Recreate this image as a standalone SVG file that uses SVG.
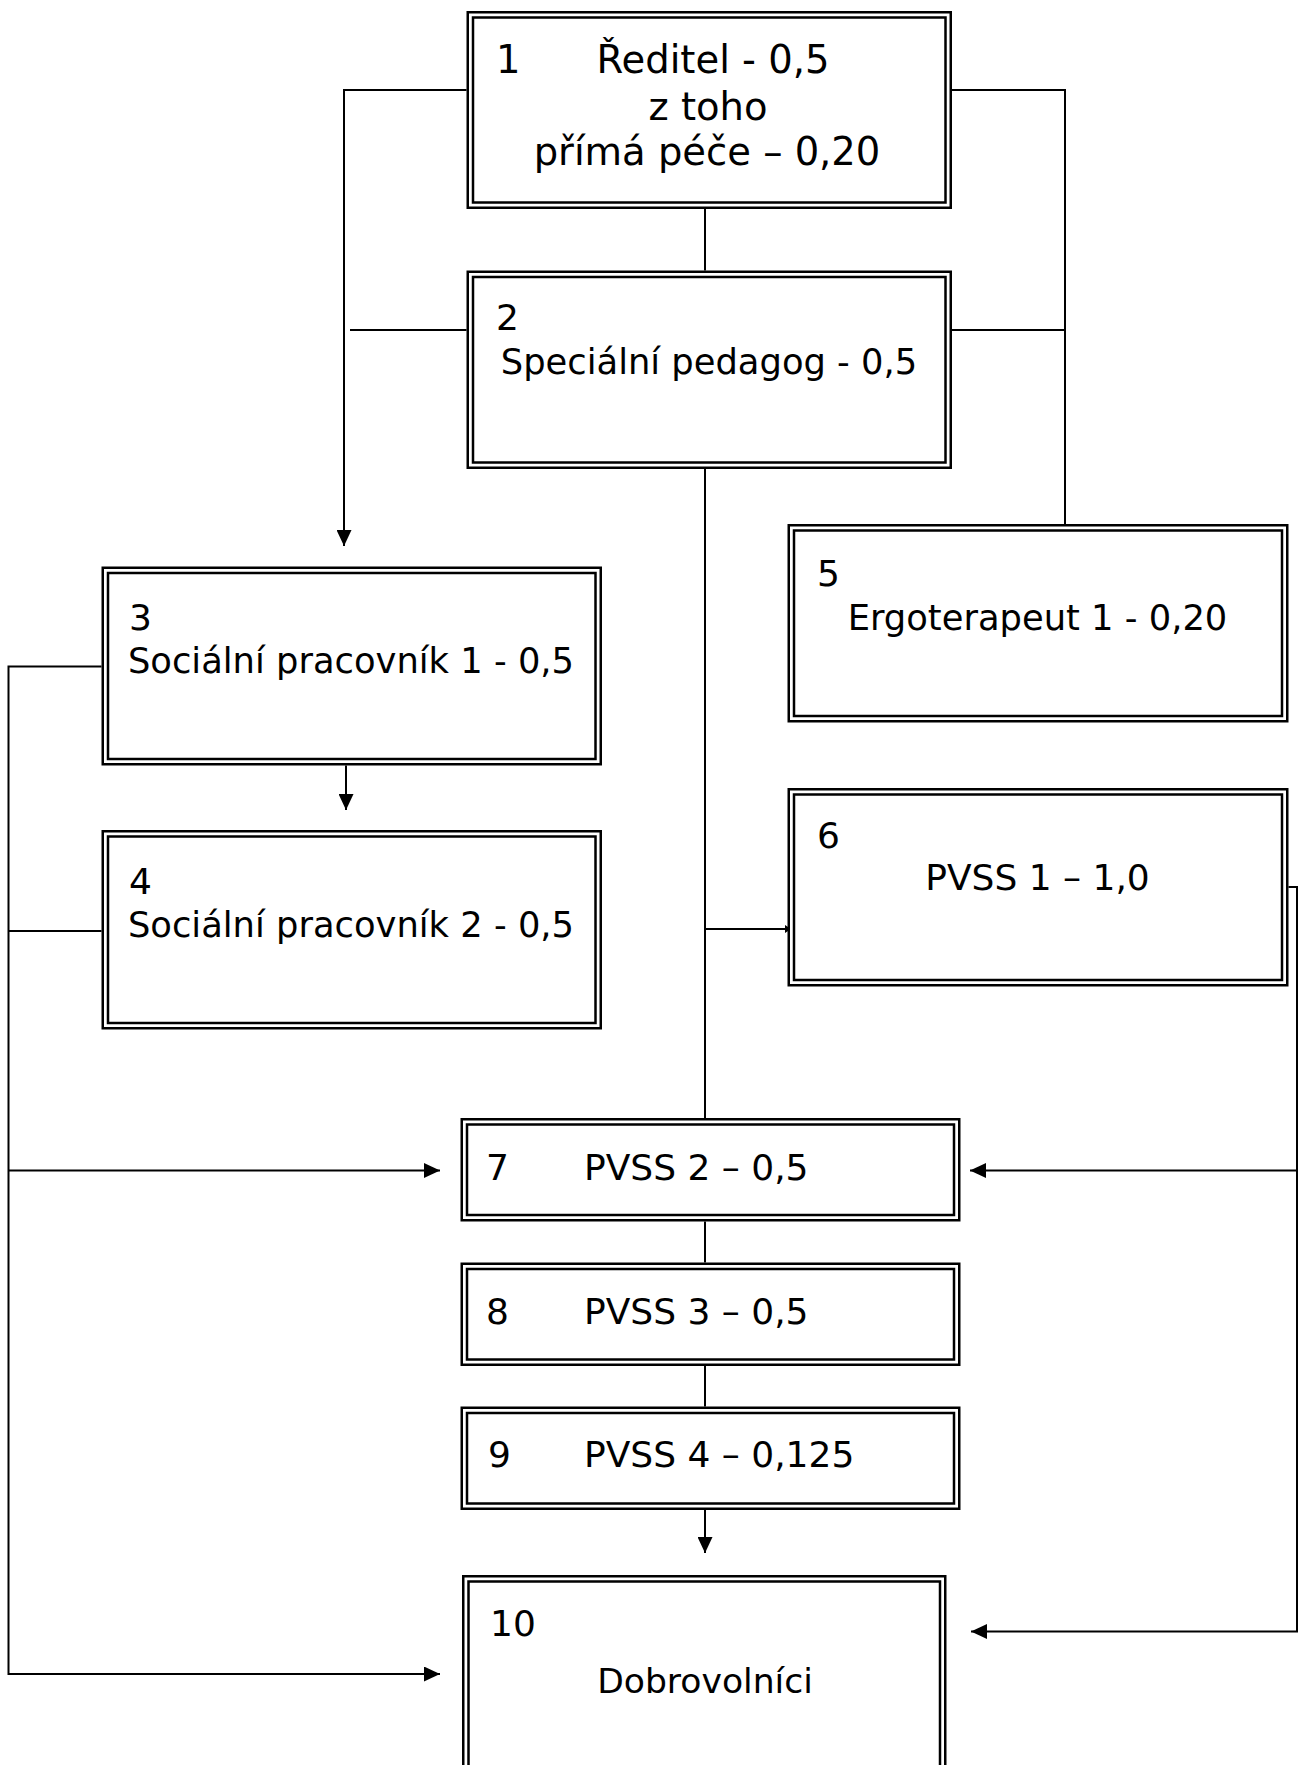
<svg xmlns="http://www.w3.org/2000/svg" width="1300" height="1765" viewBox="0 0 1300 1765">
<style>
.o{fill:#fff;stroke:#000;stroke-width:2.5}
.i{fill:none;stroke:#000;stroke-width:2.5}
.c{fill:none;stroke:#000;stroke-width:2}
text{font-family:"DejaVu Sans",Verdana,sans-serif;font-size:36px;fill:#000}
.m{text-anchor:middle}
.b{font-size:38.5px}
.l{font-size:35.3px}
</style>
<defs>
<marker id="a" markerUnits="userSpaceOnUse" markerWidth="16" markerHeight="15" refX="16" refY="7.5" orient="auto"><path d="M0,0 L16,7.5 L0,15 z" fill="#000"/></marker>
<marker id="s" markerUnits="userSpaceOnUse" markerWidth="6" markerHeight="8" refX="6" refY="4" orient="auto"><path d="M0,0 L6,4 L0,8 z" fill="#000"/></marker>
</defs>
<rect width="1300" height="1765" fill="#fff"/>
<g id="connectors">
<polyline class="c" points="466.5,90 344,90 344,546" marker-end="url(#a)"/>
<line class="c" x1="350" y1="330" x2="466.5" y2="330"/>
<polyline class="c" points="952,90 1065,90 1065,524"/>
<line class="c" x1="952" y1="330" x2="1065" y2="330"/>
<line class="c" x1="705" y1="209" x2="705" y2="270.5"/>
<line class="c" x1="705" y1="469" x2="705" y2="1118"/>
<line class="c" x1="705" y1="929" x2="791" y2="929" marker-end="url(#s)"/>
<line class="c" x1="346" y1="765.5" x2="346" y2="810" marker-end="url(#a)"/>
<polyline class="c" points="101.5,666.5 8.5,666.5 8.5,1674 440,1674" marker-end="url(#a)"/>
<line class="c" x1="8.5" y1="931" x2="101.5" y2="931"/>
<line class="c" x1="8.5" y1="1170.5" x2="440" y2="1170.5" marker-end="url(#a)"/>
<polyline class="c" points="1288.5,887 1297,887 1297,1631.5 971,1631.5" marker-end="url(#a)"/>
<line class="c" x1="1297" y1="1170.5" x2="970" y2="1170.5" marker-end="url(#a)"/>
<line class="c" x1="705" y1="1221.5" x2="705" y2="1262.5"/>
<line class="c" x1="705" y1="1366" x2="705" y2="1406.5"/>
<line class="c" x1="705" y1="1510" x2="705" y2="1553" marker-end="url(#a)"/>
</g>
<g id="n1">
<rect class="o" x="467.75" y="12.25" width="483" height="195.5"/>
<rect class="i" x="473" y="17.5" width="472.5" height="185"/>
<text class="b" x="496" y="73">1</text>
<text class="m b" x="713" y="73">Ředitel - 0,5</text>
<text class="m b" x="708" y="120">z toho</text>
<text class="m b" x="707" y="165">přímá péče – 0,20</text>
</g>
<g id="n2">
<rect class="o" x="467.75" y="271.75" width="483" height="196"/>
<rect class="i" x="473" y="277" width="472.5" height="185.5"/>
<text x="496" y="330">2</text>
<text class="m l" x="709" y="374">Speciální pedagog - 0,5</text>
</g>
<g id="n3">
<rect class="o" x="102.75" y="567.75" width="498" height="196.5"/>
<rect class="i" x="108" y="573" width="487.5" height="186"/>
<text x="129" y="630">3</text>
<text class="m l" x="351" y="673">Sociální pracovník 1 - 0,5</text>
</g>
<g id="n4">
<rect class="o" x="102.75" y="831.25" width="498" height="197"/>
<rect class="i" x="108" y="836.5" width="487.5" height="186.5"/>
<text x="129" y="894">4</text>
<text class="m l" x="351" y="937">Sociální pracovník 2 - 0,5</text>
</g>
<g id="n5">
<rect class="o" x="788.75" y="525.25" width="498.5" height="196"/>
<rect class="i" x="794" y="530.5" width="488" height="185.5"/>
<text x="817" y="586">5</text>
<text class="m l" x="1037.5" y="630">Ergoterapeut 1 - 0,20</text>
</g>
<g id="n6">
<rect class="o" x="788.75" y="789.25" width="498.5" height="196"/>
<rect class="i" x="794" y="794.5" width="488" height="185.5"/>
<text x="817" y="848">6</text>
<text class="m" x="1037.5" y="890">PVSS 1 – 1,0</text>
</g>
<g id="n7">
<rect class="o" x="461.75" y="1119.25" width="497.5" height="101"/>
<rect class="i" x="467" y="1124.5" width="487" height="90.5"/>
<text x="486" y="1180">7</text>
<text x="584" y="1180">PVSS 2 – 0,5</text>
</g>
<g id="n8">
<rect class="o" x="461.75" y="1263.75" width="497.5" height="101"/>
<rect class="i" x="467" y="1269" width="487" height="90.5"/>
<text x="486" y="1324">8</text>
<text x="584" y="1324">PVSS 3 – 0,5</text>
</g>
<g id="n9">
<rect class="o" x="461.75" y="1407.75" width="497.5" height="101"/>
<rect class="i" x="467" y="1413" width="487" height="90.5"/>
<text x="488" y="1467">9</text>
<text x="584" y="1467">PVSS 4 – 0,125</text>
</g>
<g id="n10">
<rect class="o" x="463.25" y="1576.25" width="482" height="230"/>
<rect class="i" x="468.5" y="1581.5" width="471.5" height="220"/>
<text x="490" y="1636">10</text>
<text class="m" x="705" y="1693" style="font-size:34.6px">Dobrovolníci</text>
</g>
</svg>
